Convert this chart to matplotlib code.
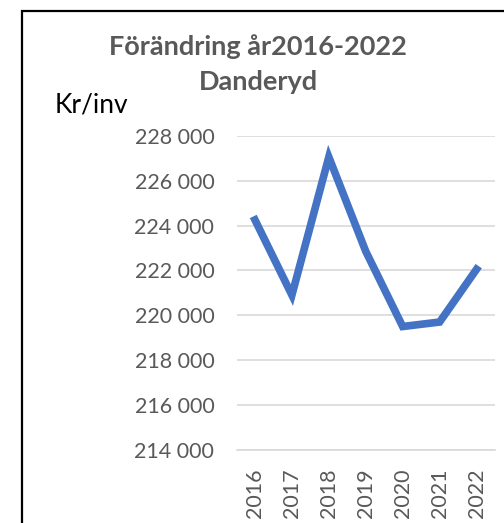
import matplotlib
matplotlib.use("Agg")
from matplotlib import pyplot as plt
from matplotlib.patches import Rectangle
from matplotlib.ticker import FuncFormatter

years = ["2016", "2017", "2018", "2019", "2020", "2021", "2022"]
kr_per_inv = [224250, 220900, 227050, 222850, 219500, 219700, 222050]
y_ticks = [214000, 216000, 218000, 220000, 222000, 224000, 226000, 228000]

plt.rcParams['font.family'] = ['Lato', 'DejaVu Sans']

W, H = 504, 523
fig = plt.figure(figsize=(W / 100, H / 100), dpi=100)

# outer chart border (cut by the image edge on right and bottom)
fig.patches.append(Rectangle((22 / W, -0.1), 1.2, 1 - 11 / H + 0.1,
                             transform=fig.transFigure, fill=False,
                             edgecolor='black', linewidth=1.6))

ax = fig.add_axes([236.5 / W, (H - 450) / H, 258.5 / W, 314.3 / H])
x = list(range(len(years)))
ax.plot(x, kr_per_inv, color='#4472C4', linewidth=5.5, solid_joinstyle='miter')
ax.set_xlim(-0.5, len(years) - 0.5)
ax.set_ylim(y_ticks[0], y_ticks[-1])
ax.set_yticks(y_ticks)
ax.yaxis.set_major_formatter(FuncFormatter(lambda v, p: f"{int(v):,}".replace(",", " ")))
ax.set_xticks(x)
ax.set_xticklabels(years, rotation=90)
ax.grid(axis='y', color='#D9D9D9', linewidth=1.2)
ax.set_axisbelow(True)
for s in ['top', 'right', 'left']:
    ax.spines[s].set_visible(False)
ax.spines['bottom'].set_color('#D9D9D9')
ax.spines['bottom'].set_linewidth(1.2)
ax.tick_params(axis='both', length=0, colors='#595959', labelsize=15.5)
ax.tick_params(axis='y', pad=16)
ax.tick_params(axis='x', pad=13)

fig.text(258 / W, 1 - 47 / H, 'Förändring år2016-2022', ha='center', va='center',
         fontsize=19.5, fontweight='bold', color='#595959')
fig.text(258 / W, 1 - 82 / H, 'Danderyd', ha='center', va='center',
         fontsize=19.5, fontweight='bold', color='#595959')
fig.text(55 / W, 1 - 105 / H, 'Kr/inv', ha='left', va='center',
         fontsize=19, color='black')

fig.savefig('out.png', dpi=100)
